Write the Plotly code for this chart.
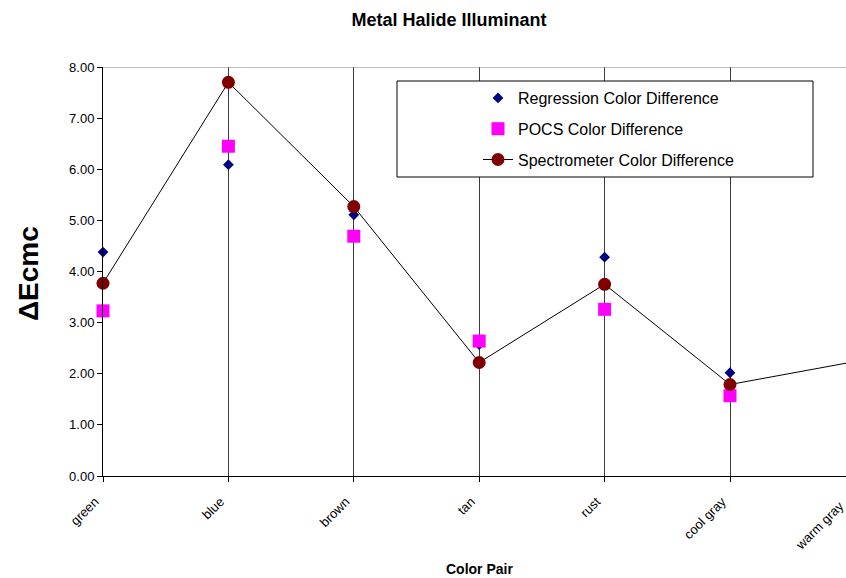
import plotly.graph_objects as go

# Colour pairs and the ΔEcmc values for each method
categories = ["green", "blue", "brown", "tan", "rust", "cool gray", "warm gray"]
regression = [4.38, 6.09, 5.11, 2.57, 4.28, 2.02, None]
pocs = [3.23, 6.45, 4.69, 2.64, 3.26, 1.57, None]
spectrometer = [3.77, 7.70, 5.27, 2.22, 3.75, 1.79, 2.24]
y_ticks = [0, 1, 2, 3, 4, 5, 6, 7, 8]

W, H = 846, 578
L, R, T, B = 103, 0, 67, 102
plot_w = W - L - R
plot_h = H - T - B
cat_step = 125.4  # pixel spacing between categories
x_max = plot_w / cat_step

FONT = "Arial, Liberation Sans, sans-serif"


def px_x(p):
    return (p - L) / plot_w


def px_y(p):
    return (H - B - p) / plot_h


fig = go.Figure()
fig.add_trace(go.Scatter(
    x=categories, y=regression, mode="markers", name="Regression Color Difference",
    marker=dict(symbol="diamond", size=8.3, color="#000080", line=dict(width=0)),
    cliponaxis=False, legendgroup="a",
))
fig.add_trace(go.Scatter(
    x=categories, y=pocs, mode="markers", name="POCS Color Difference",
    marker=dict(symbol="square", size=13, color="#FF00FF", line=dict(width=0)),
    cliponaxis=False, legendgroup="b",
))
fig.add_trace(go.Scatter(
    x=categories, y=spectrometer, mode="lines+markers", name="Spectrometer Color Difference",
    line=dict(color="black", width=1),
    marker=dict(symbol="circle", size=13, color="#800000", line=dict(width=0)),
    cliponaxis=False, legendgroup="c",
))

fig.update_layout(
    width=W, height=H,
    margin=dict(l=L, r=R, t=T, b=B, autoexpand=False),
    paper_bgcolor="white", plot_bgcolor="white",
    font=dict(family=FONT, size=13, color="black"),
    title=dict(
        text="Metal Halide Illuminant",
        font=dict(family=FONT, size=18, color="black", weight="bold"),
        x=px_x(449), xanchor="center", xref="paper",
        y=1 - 20 / H, yanchor="middle", yref="container",
    ),
    showlegend=True,
    legend=dict(
        x=px_x(478), xanchor="left", y=px_y(81), yanchor="top",
        bgcolor="rgba(0,0,0,0)", borderwidth=0,
        font=dict(family=FONT, size=16, color="black"),
        traceorder="grouped", tracegroupgap=7,
    ),
    xaxis=dict(
        type="category", range=[0, x_max],
        showgrid=True, gridcolor="#3a3a3a", gridwidth=1,
        showline=True, linecolor="black", linewidth=1,
        ticks="outside", ticklen=5, tickcolor="black",
        tickangle=-45, tickfont=dict(family=FONT, size=13, color="black"),
        ticklabelshift=-8, ticklabelstandoff=7,
        zeroline=False,
    ),
    yaxis=dict(
        range=[0, 8], tickvals=y_ticks, tickformat=".2f",
        showgrid=False, zeroline=False,
        showline=True, linecolor="black", linewidth=1,
        ticks="outside", ticklen=5, tickcolor="black",
        tickfont=dict(family=FONT, size=13, color="black"),
    ),
    shapes=[
        # plot area top border
        dict(type="line", xref="paper", yref="y", x0=0, x1=1, y0=8, y1=8,
             line=dict(color="#808080", width=1)),
        # legend frame
        dict(type="rect", xref="paper", yref="paper",
             x0=px_x(397), x1=px_x(813), y0=px_y(177), y1=px_y(81),
             fillcolor="white", line=dict(color="black", width=1), layer="above"),
    ],
    annotations=[
        dict(text="ΔEcmc", textangle=-90, xref="paper", yref="paper",
             x=px_x(28), y=px_y(274), xanchor="center", yanchor="middle",
             showarrow=False, font=dict(family=FONT, size=28, color="black", weight="bold")),
        dict(text="Color Pair", xref="paper", yref="paper",
             x=px_x(479.5), y=px_y(569), xanchor="center", yanchor="middle",
             showarrow=False, font=dict(family=FONT, size=14, color="black", weight="bold")),
        # last category label sits past the visible right edge of the axis
        dict(text=categories[-1], textangle=-45, xref="paper", yref="paper",
             x=px_x(L + 6 * cat_step - 6), y=px_y(495), xanchor="right", yanchor="top",
             showarrow=False, font=dict(family=FONT, size=13, color="black")),
    ],
)

fig.write_html("out.html")
